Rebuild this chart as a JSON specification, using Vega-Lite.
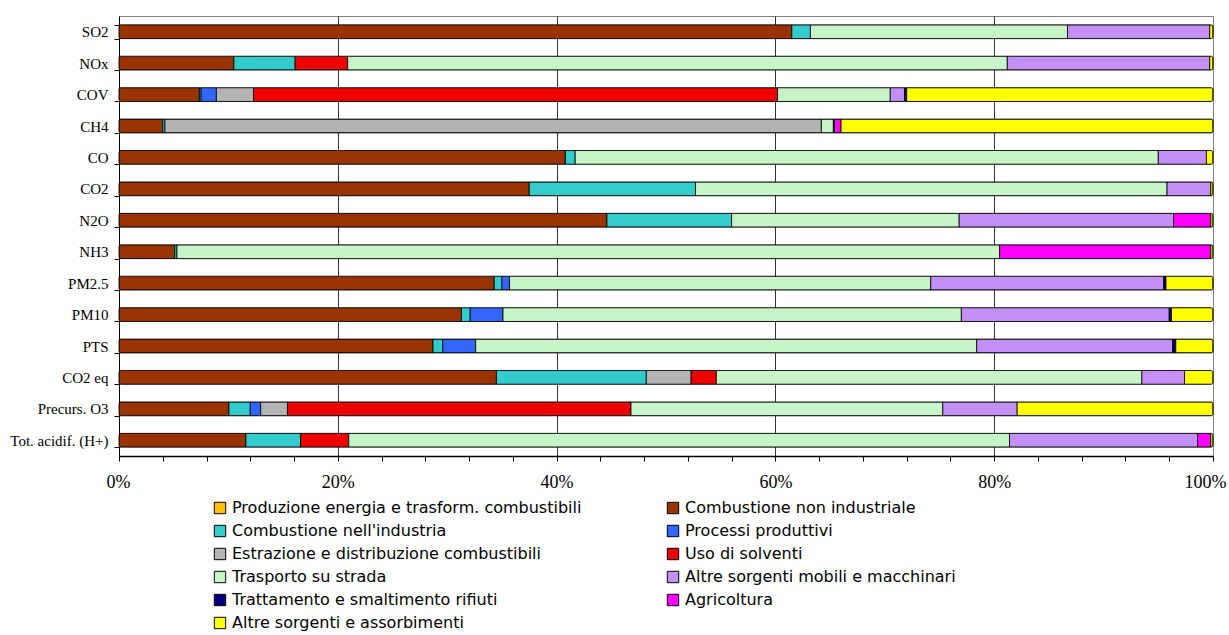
{
  "$schema": "https://vega.github.io/schema/vega-lite/v6.json",
  "width": 1094,
  "height": 440,
  "autosize": "none",
  "padding": {"left": 119, "top": 16, "right": 16, "bottom": 179},
  "background": "white",
  "config": {"view": {"stroke": "#808080", "strokeWidth": 1}},
  "data": {"values": [
    {"pollutant": "SO2", "source": "Combustione non industriale", "value": 61.5},
    {"pollutant": "SO2", "source": "Combustione nell'industria", "value": 1.7},
    {"pollutant": "SO2", "source": "Trasporto su strada", "value": 23.5},
    {"pollutant": "SO2", "source": "Altre sorgenti mobili e macchinari", "value": 13.0},
    {"pollutant": "SO2", "source": "Altre sorgenti e assorbimenti", "value": 0.3},
    {"pollutant": "NOx", "source": "Combustione non industriale", "value": 10.5},
    {"pollutant": "NOx", "source": "Combustione nell'industria", "value": 5.6},
    {"pollutant": "NOx", "source": "Uso di solventi", "value": 4.8},
    {"pollutant": "NOx", "source": "Trasporto su strada", "value": 60.3},
    {"pollutant": "NOx", "source": "Altre sorgenti mobili e macchinari", "value": 18.5},
    {"pollutant": "NOx", "source": "Altre sorgenti e assorbimenti", "value": 0.3},
    {"pollutant": "COV", "source": "Combustione non industriale", "value": 7.35},
    {"pollutant": "COV", "source": "Combustione nell'industria", "value": 0.15},
    {"pollutant": "COV", "source": "Processi produttivi", "value": 1.4},
    {"pollutant": "COV", "source": "Estrazione e distribuzione combustibili", "value": 3.4},
    {"pollutant": "COV", "source": "Uso di solventi", "value": 47.9},
    {"pollutant": "COV", "source": "Trasporto su strada", "value": 10.3},
    {"pollutant": "COV", "source": "Altre sorgenti mobili e macchinari", "value": 1.3},
    {"pollutant": "COV", "source": "Trattamento e smaltimento rifiuti", "value": 0.2},
    {"pollutant": "COV", "source": "Altre sorgenti e assorbimenti", "value": 28.0},
    {"pollutant": "CH4", "source": "Combustione non industriale", "value": 4.0},
    {"pollutant": "CH4", "source": "Combustione nell'industria", "value": 0.2},
    {"pollutant": "CH4", "source": "Estrazione e distribuzione combustibili", "value": 60.0},
    {"pollutant": "CH4", "source": "Trasporto su strada", "value": 1.1},
    {"pollutant": "CH4", "source": "Trattamento e smaltimento rifiuti", "value": 0.1},
    {"pollutant": "CH4", "source": "Agricoltura", "value": 0.6},
    {"pollutant": "CH4", "source": "Altre sorgenti e assorbimenti", "value": 34.0},
    {"pollutant": "CO", "source": "Combustione non industriale", "value": 40.8},
    {"pollutant": "CO", "source": "Combustione nell'industria", "value": 0.9},
    {"pollutant": "CO", "source": "Trasporto su strada", "value": 53.3},
    {"pollutant": "CO", "source": "Altre sorgenti mobili e macchinari", "value": 4.4},
    {"pollutant": "CO", "source": "Altre sorgenti e assorbimenti", "value": 0.6},
    {"pollutant": "CO2", "source": "Combustione non industriale", "value": 37.5},
    {"pollutant": "CO2", "source": "Combustione nell'industria", "value": 15.2},
    {"pollutant": "CO2", "source": "Trasporto su strada", "value": 43.1},
    {"pollutant": "CO2", "source": "Altre sorgenti mobili e macchinari", "value": 4.0},
    {"pollutant": "CO2", "source": "Altre sorgenti e assorbimenti", "value": 0.2},
    {"pollutant": "N2O", "source": "Combustione non industriale", "value": 44.6},
    {"pollutant": "N2O", "source": "Combustione nell'industria", "value": 11.4},
    {"pollutant": "N2O", "source": "Trasporto su strada", "value": 20.8},
    {"pollutant": "N2O", "source": "Altre sorgenti mobili e macchinari", "value": 19.6},
    {"pollutant": "N2O", "source": "Agricoltura", "value": 3.4},
    {"pollutant": "N2O", "source": "Altre sorgenti e assorbimenti", "value": 0.2},
    {"pollutant": "NH3", "source": "Combustione non industriale", "value": 5.1},
    {"pollutant": "NH3", "source": "Combustione nell'industria", "value": 0.2},
    {"pollutant": "NH3", "source": "Trasporto su strada", "value": 75.2},
    {"pollutant": "NH3", "source": "Agricoltura", "value": 19.3},
    {"pollutant": "NH3", "source": "Altre sorgenti e assorbimenti", "value": 0.2},
    {"pollutant": "PM2.5", "source": "Combustione non industriale", "value": 34.3},
    {"pollutant": "PM2.5", "source": "Combustione nell'industria", "value": 0.7},
    {"pollutant": "PM2.5", "source": "Processi produttivi", "value": 0.7},
    {"pollutant": "PM2.5", "source": "Trasporto su strada", "value": 38.5},
    {"pollutant": "PM2.5", "source": "Altre sorgenti mobili e macchinari", "value": 21.3},
    {"pollutant": "PM2.5", "source": "Trattamento e smaltimento rifiuti", "value": 0.2},
    {"pollutant": "PM2.5", "source": "Altre sorgenti e assorbimenti", "value": 4.3},
    {"pollutant": "PM10", "source": "Combustione non industriale", "value": 31.3},
    {"pollutant": "PM10", "source": "Combustione nell'industria", "value": 0.8},
    {"pollutant": "PM10", "source": "Processi produttivi", "value": 3.0},
    {"pollutant": "PM10", "source": "Trasporto su strada", "value": 41.9},
    {"pollutant": "PM10", "source": "Altre sorgenti mobili e macchinari", "value": 19.0},
    {"pollutant": "PM10", "source": "Trattamento e smaltimento rifiuti", "value": 0.2},
    {"pollutant": "PM10", "source": "Altre sorgenti e assorbimenti", "value": 3.8},
    {"pollutant": "PTS", "source": "Combustione non industriale", "value": 28.7},
    {"pollutant": "PTS", "source": "Combustione nell'industria", "value": 0.9},
    {"pollutant": "PTS", "source": "Processi produttivi", "value": 3.0},
    {"pollutant": "PTS", "source": "Trasporto su strada", "value": 45.8},
    {"pollutant": "PTS", "source": "Altre sorgenti mobili e macchinari", "value": 17.9},
    {"pollutant": "PTS", "source": "Trattamento e smaltimento rifiuti", "value": 0.3},
    {"pollutant": "PTS", "source": "Altre sorgenti e assorbimenti", "value": 3.4},
    {"pollutant": "CO2 eq", "source": "Combustione non industriale", "value": 34.5},
    {"pollutant": "CO2 eq", "source": "Combustione nell'industria", "value": 13.7},
    {"pollutant": "CO2 eq", "source": "Estrazione e distribuzione combustibili", "value": 4.1},
    {"pollutant": "CO2 eq", "source": "Uso di solventi", "value": 2.3},
    {"pollutant": "CO2 eq", "source": "Trasporto su strada", "value": 38.9},
    {"pollutant": "CO2 eq", "source": "Altre sorgenti mobili e macchinari", "value": 3.9},
    {"pollutant": "CO2 eq", "source": "Altre sorgenti e assorbimenti", "value": 2.6},
    {"pollutant": "Precurs. O3", "source": "Combustione non industriale", "value": 10.05},
    {"pollutant": "Precurs. O3", "source": "Combustione nell'industria", "value": 1.95},
    {"pollutant": "Precurs. O3", "source": "Processi produttivi", "value": 0.95},
    {"pollutant": "Precurs. O3", "source": "Estrazione e distribuzione combustibili", "value": 2.45},
    {"pollutant": "Precurs. O3", "source": "Uso di solventi", "value": 31.4},
    {"pollutant": "Precurs. O3", "source": "Trasporto su strada", "value": 28.5},
    {"pollutant": "Precurs. O3", "source": "Altre sorgenti mobili e macchinari", "value": 6.8},
    {"pollutant": "Precurs. O3", "source": "Altre sorgenti e assorbimenti", "value": 17.9},
    {"pollutant": "Tot. acidif. (H+)", "source": "Combustione non industriale", "value": 11.6},
    {"pollutant": "Tot. acidif. (H+)", "source": "Combustione nell'industria", "value": 5.0},
    {"pollutant": "Tot. acidif. (H+)", "source": "Uso di solventi", "value": 4.4},
    {"pollutant": "Tot. acidif. (H+)", "source": "Trasporto su strada", "value": 60.4},
    {"pollutant": "Tot. acidif. (H+)", "source": "Altre sorgenti mobili e macchinari", "value": 17.2},
    {"pollutant": "Tot. acidif. (H+)", "source": "Agricoltura", "value": 1.2},
    {"pollutant": "Tot. acidif. (H+)", "source": "Altre sorgenti e assorbimenti", "value": 0.2}
  ]},
  "transform": [
    {"calculate": "indexof(['Produzione energia e trasform. combustibili','Combustione non industriale','Combustione nell\\'industria','Processi produttivi','Estrazione e distribuzione combustibili','Uso di solventi','Trasporto su strada','Altre sorgenti mobili e macchinari','Trattamento e smaltimento rifiuti','Agricoltura','Altre sorgenti e assorbimenti'], datum.source)", "as": "rank"}
  ],
  "mark": {"type": "bar", "stroke": "#000000", "strokeWidth": 1, "strokeOpacity": 0.85, "cornerRadius": 2},
  "encoding": {
    "y": {
      "field": "pollutant", "type": "nominal",
      "sort": ["SO2","NOx","COV","CH4","CO","CO2","N2O","NH3","PM2.5","PM10","PTS","CO2 eq","Precurs. O3","Tot. acidif. (H+)"],
      "scale": {"paddingInner": 0.56, "paddingOuter": 0.28},
      "axis": {"title": null, "tickBand": "extent", "labelFont": "Liberation Serif", "labelFontSize": 15, "labelColor": "#000000", "domainColor": "#000000", "tickColor": "#000000", "tickSize": 5, "labelPadding": 6, "grid": false}
    },
    "x": {
      "field": "value", "type": "quantitative", "stack": "normalize",
      "scale": {"domain": [0, 1], "nice": false},
      "axis": {
        "title": null, "format": "%",
        "values": [0,0.04,0.08,0.12,0.16,0.2,0.24,0.28,0.32,0.36,0.4,0.44,0.48,0.52,0.56,0.6,0.64,0.68,0.72,0.76,0.8,0.84,0.88,0.92,0.96,1],
        "labelExpr": "round(datum.value*100) % 20 == 0 ? datum.label : ''",
        "labelFont": "Liberation Serif", "labelFontSize": 18, "labelColor": "#000000",
        "labelPadding": 12, "labelOverlap": false, "labelFlush": true, "labelFlushOffset": 13,
        "domainColor": "#000000", "domainWidth": 1.5, "tickColor": "#000000", "tickSize": 5,
        "grid": true,
        "gridColor": "#333333",
        "gridOpacity": {"condition": {"test": "round(datum.value*100) % 20 == 0 && datum.value > 0 && datum.value < 1", "value": 1}, "value": 0}
      }
    },
    "color": {
      "field": "source", "type": "nominal",
      "scale": {
        "domain": ["Produzione energia e trasform. combustibili","Combustione non industriale","Combustione nell'industria","Processi produttivi","Estrazione e distribuzione combustibili","Uso di solventi","Trasporto su strada","Altre sorgenti mobili e macchinari","Trattamento e smaltimento rifiuti","Agricoltura","Altre sorgenti e assorbimenti"],
        "range": ["#FFC000","#993300","#33CCCC","#3366FF","#B4B4B4","#F00000","#C8F5C8","#C490F5","#000080","#FF00FF","#FFFF00"]
      },
      "legend": {
        "title": null, "orient": "none", "legendX": 93, "legendY": 484,
        "direction": "horizontal", "columns": 2, "columnPadding": 83, "rowPadding": 7,
        "symbolType": "square", "symbolSize": 130, "symbolStrokeColor": "#000000", "symbolStrokeWidth": 1, "symbolOpacity": 1,
        "labelFont": "DejaVu Sans", "labelFontSize": 16, "labelColor": "#000000", "labelLimit": 0, "labelOffset": 4
      }
    },
    "order": {"field": "rank", "type": "quantitative"}
  }
}
